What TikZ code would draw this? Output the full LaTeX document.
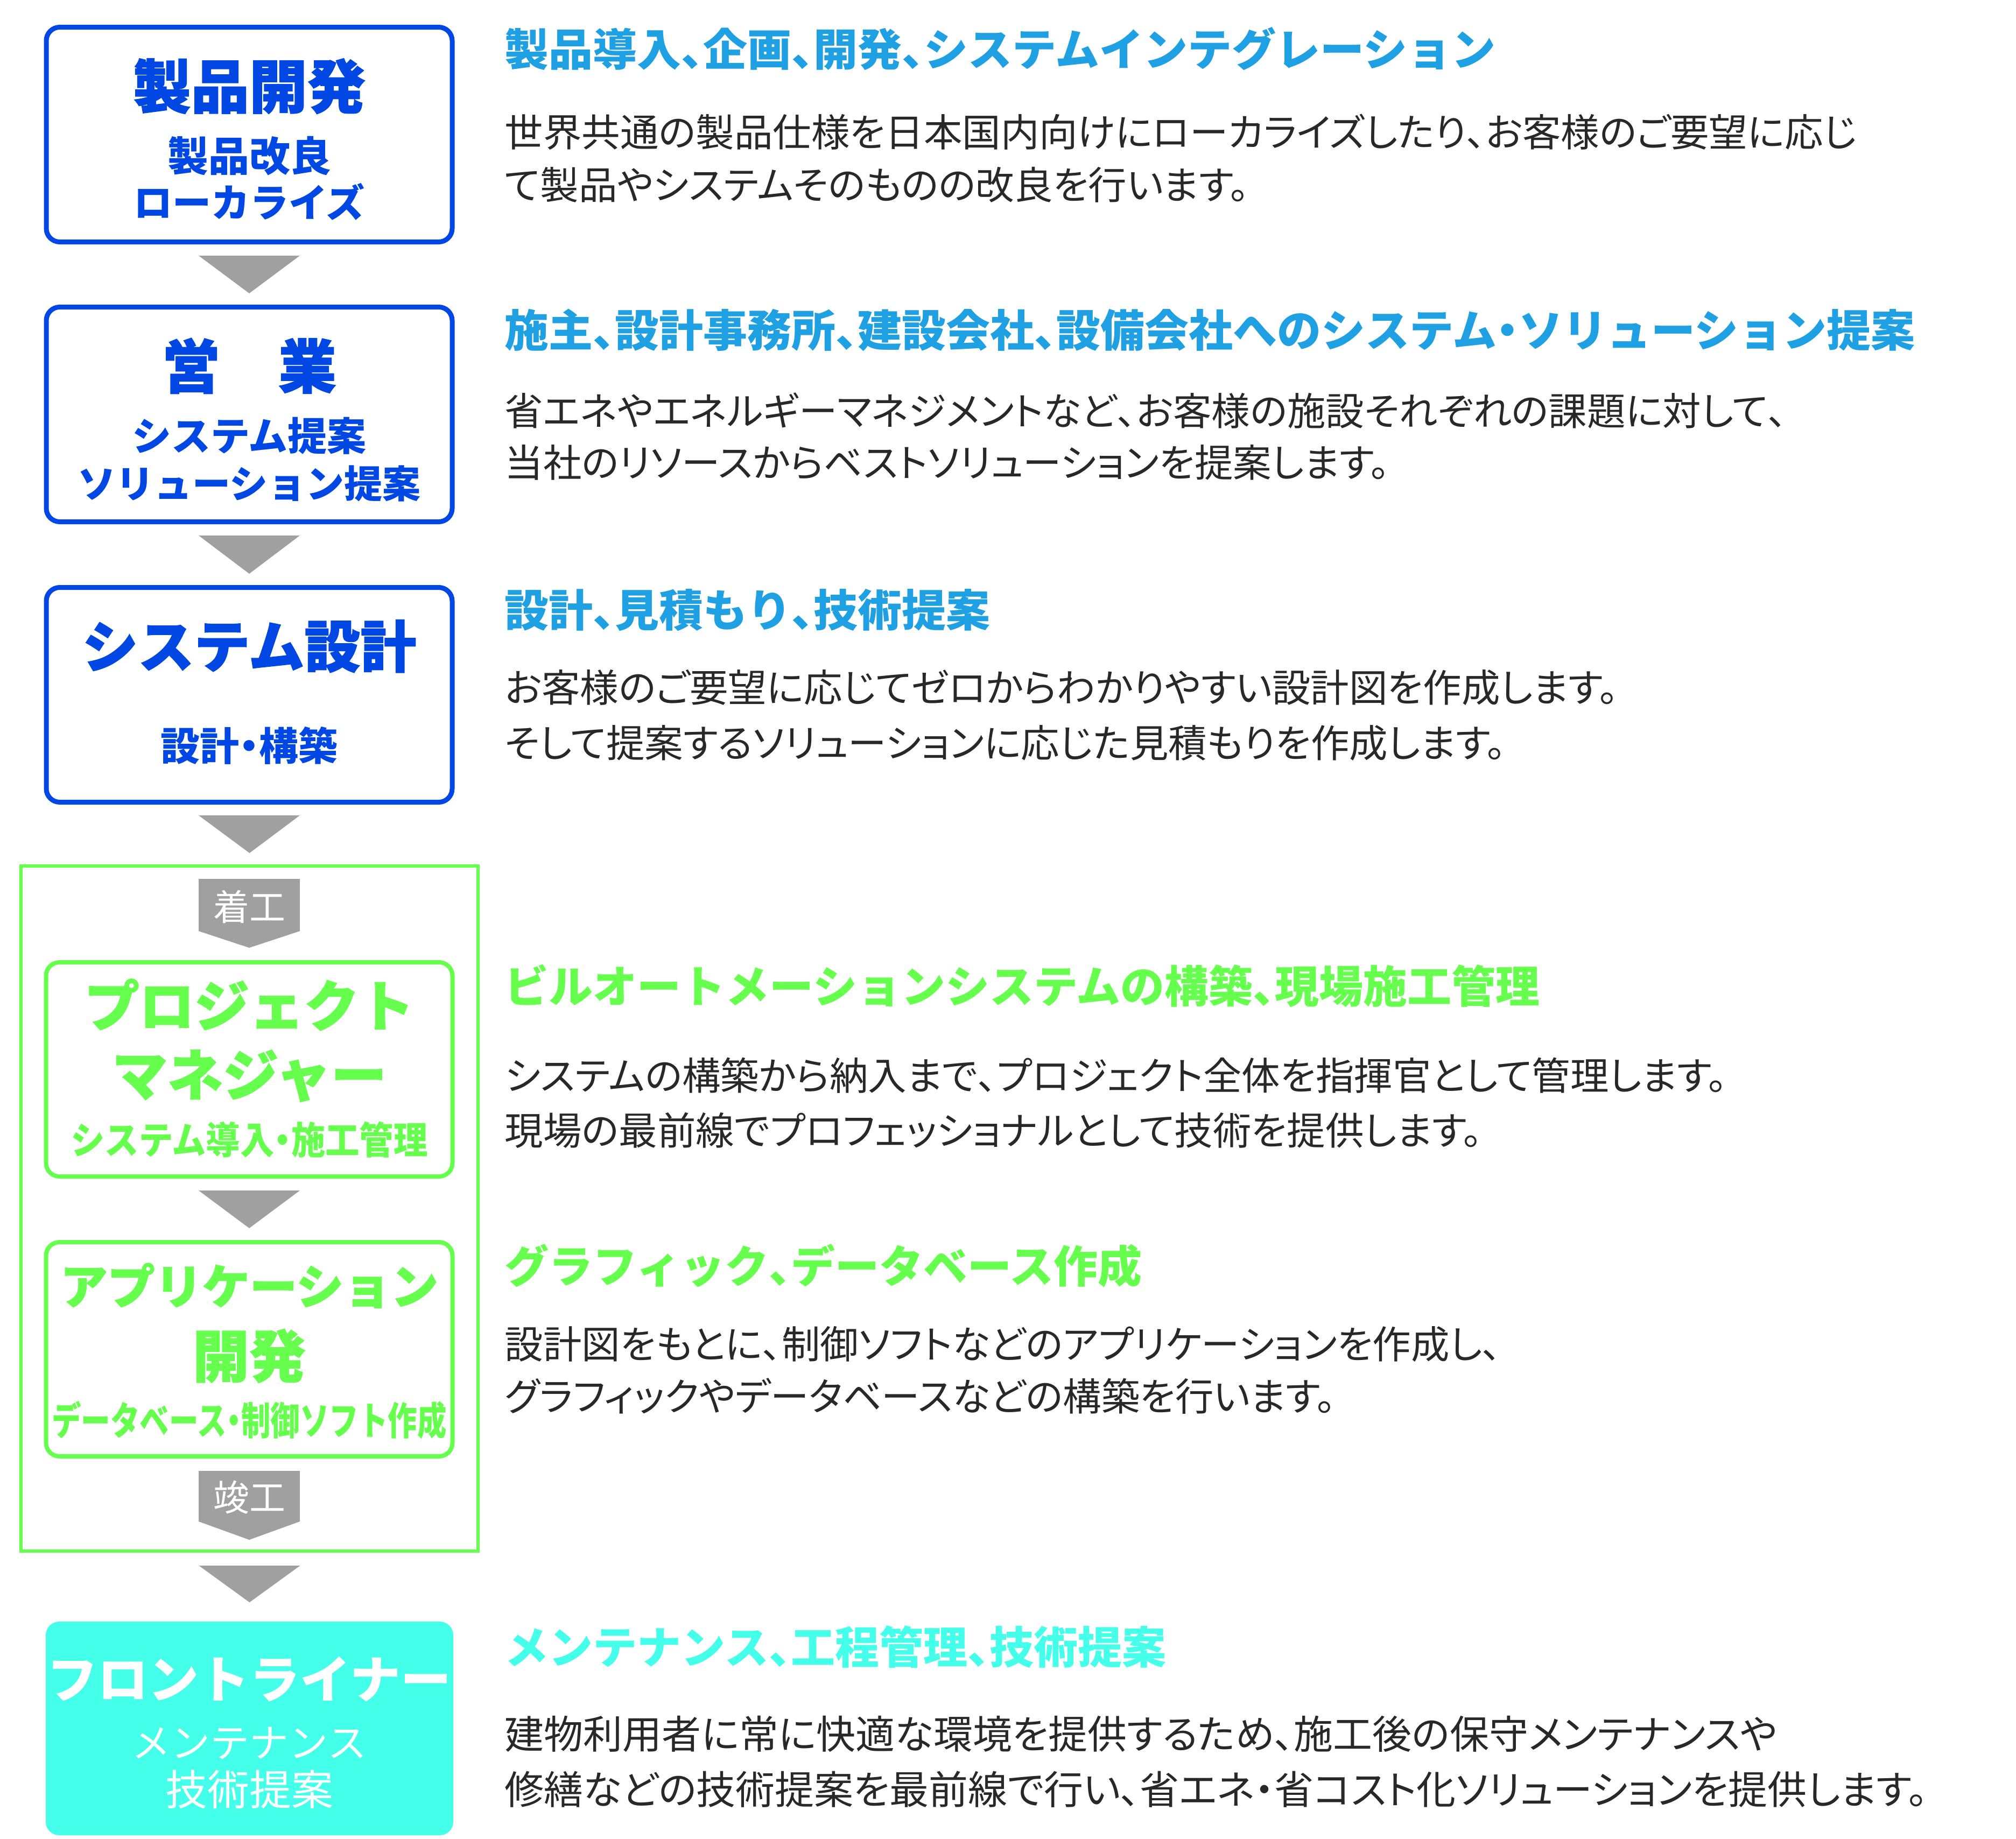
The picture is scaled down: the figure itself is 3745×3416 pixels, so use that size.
\documentclass[tikz,border=0pt]{standalone}
\usepackage{graphicx}
\usepackage{fontspec}
\setmainfont{Noto Sans CJK JP}
\newfontfamily\bodyfont{Noto Sans CJK JP}[RawFeature=+palt]
\newfontfamily\heavyfont{Noto Sans CJK JP}[BoldFeatures={FakeBold=1.4}]
\usetikzlibrary{calc}
\definecolor{boxblue}{RGB}{0,71,228}
\definecolor{headblue}{RGB}{30,160,226}
\definecolor{lgreen}{RGB}{102,255,77}
\definecolor{cyanc}{RGB}{68,255,234}
\definecolor{arrowgray}{RGB}{160,160,160}
\definecolor{bodytext}{RGB}{40,40,40}
\newcommand\setfs[1]{\fontsize{#1}{#1}\selectfont}
\newcommand\hten{\makebox[0.5em][l]{、}}
\newcommand\hdot{\makebox[0.5em][c]{・}}
\begin{document}
\begin{tikzpicture}[x=0.25pt,y=-0.25pt,
  bluebox/.style={draw=boxblue,line width=2.25pt,rounded corners=6.25pt,fill=white,minimum width=188.5pt,minimum height=99.75pt,inner sep=0pt},
  greenbox/.style={draw=lgreen,line width=2pt,rounded corners=6.25pt,fill=white,minimum width=188.75pt,minimum height=99.5pt,inner sep=0pt},
  cyanbox/.style={fill=cyanc,rounded corners=6.25pt,minimum width=189.25pt,minimum height=99.25pt,inner sep=0pt},
  framebox/.style={draw=lgreen,line width=1.5pt,minimum width=212.25pt,minimum height=318.25pt,inner sep=0pt},
  arrowfill/.style={fill=arrowgray},
  lbl/.style={inner sep=0pt,anchor=base},
  rhead/.style={inner sep=0pt,anchor=base west,font={\setfs{20.5pt}\bfseries}},
  rbody/.style={inner sep=0pt,anchor=base west,text=bodytext,font={\bodyfont\setfs{17.875pt}}},
  rbodyb/.style={inner sep=0pt,anchor=base west,text=bodytext,font={\bodyfont\setfs{18.25pt}}}
]
\useasboundingbox (0,0) rectangle (3745,3416);
\fill[white] (0,0) rectangle (3745,3416);

% outer green frame
\node[framebox] (frame) at (463.5,2245.5) {};

% boxes
\node[bluebox] (b1) at (463,250) {};
\node[bluebox] (b2) at (463,770) {};
\node[bluebox] (b3) at (463,1291) {};
\node[greenbox] (pm) at (463,1987) {};
\node[greenbox] (app) at (463,2507) {};
\node[cyanbox] (fl) at (463.5,3211.5) {};

% arrows
\fill[arrowfill] ($(b1.south)+(-94,21)$) -- ($(b1.south)+(94,21)$) -- ($(b2.north)+(0,-21)$) -- cycle;
\fill[arrowfill] ($(b2.south)+(-94,21)$) -- ($(b2.south)+(94,21)$) -- ($(b3.north)+(0,-21)$) -- cycle;
\fill[arrowfill] ($(b3.south)+(-94,20)$) -- ($(b3.south)+(94,20)$) -- ($(frame.north)+(0,-21)$) -- cycle;
\fill[arrowfill] ($(pm.south)+(-94,22)$) -- ($(pm.south)+(94,22)$) -- ($(app.north)+(0,-22)$) -- cycle;
\fill[arrowfill] ($(frame.south)+(-94,24)$) -- ($(frame.south)+(94,24)$) -- ($(fl.north)+(0,-35)$) -- cycle;

% start / completion tags
\fill[arrowfill] (369,1633) -- (557,1633) -- (557,1730) -- (463,1761) -- (369,1730) -- cycle;
\fill[arrowfill] (369,2733) -- (557,2733) -- (557,2827) -- (463,2861) -- (369,2827) -- cycle;
\node[lbl,text=white,font={\setfs{16.75pt}}] (start) at (463,1710) {着工};
\node[lbl,text=white,font={\setfs{16.75pt}}] (done) at (463,2807) {竣工};

% box texts
\node[lbl,text=boxblue,font={\heavyfont\setfs{27pt}\bfseries}] (b1t) at (463,201) {製品開発};
\node[lbl,text=boxblue,font={\setfs{19pt}\bfseries}] (b1s) at (463,318) {製品改良};
\node[lbl,text=boxblue,font={\setfs{18pt}\bfseries}] (b1u) at (463,403) {ローカライズ};

\node[lbl,text=boxblue,font={\heavyfont\setfs{27pt}\bfseries}] (b2t) at (463,721) {営　業};
\node[lbl,text=boxblue,font={\setfs{18.25pt}\bfseries}] (b2s) at (463,837) {システム提案};
\node[lbl,text=boxblue,font={\setfs{17.75pt}\bfseries}] (b2u) at (463,925) {ソリューション提案};

\node[lbl,text=boxblue,font={\heavyfont\setfs{26pt}\bfseries}] (b3t) at (463,1240) {システム設計};
\node[lbl,text=boxblue,font={\setfs{18.25pt}\bfseries}] (b3s) at (463,1413) {設計\hdot{}構築};

\node[lbl,text=lgreen,font={\heavyfont\setfs{25.5pt}\bfseries}] (pmt) at (463,1907) {プロジェクト};
\node[lbl,text=lgreen,font={\heavyfont\setfs{25.75pt}\bfseries}] (pmu) at (463,2036) {マネジャー};
\node[lbl,text=lgreen,font={\setfs{17.5pt}\bfseries}] (pms) at (463,2144) {\scalebox{0.905}[1]{システム導入\hdot{}施工管理}};

\node[lbl,text=lgreen,font={\heavyfont\setfs{22pt}\bfseries}] (appt) at (463,2423) {アプリケーション};
\node[lbl,text=lgreen,font={\heavyfont\setfs{26.25pt}\bfseries}] (appu) at (463,2559) {開発};
\node[lbl,text=lgreen,font={\setfs{18pt}\bfseries}] (apps) at (463,2666) {\scalebox{0.757}[1]{データベース\hdot{}制御ソフト作成}};

\node[lbl,text=white,font={\setfs{23.5pt}\bfseries}] (flt) at (463,3155) {フロントライナー};
\node[lbl,text=white,font={\setfs{18.25pt}}] (fls) at (463,3265) {メンテナンス};
\node[lbl,text=white,font={\setfs{19.5pt}}] (flu) at (463,3354) {技術提案};

% right column
\node[rhead,text=headblue] (h1) at (937,122) {製品導入\hten{}企画\hten{}開発\hten{}システムインテグレーション};
\node[rbody] (p1a) at (937,272) {世界共通の製品仕様を日本国内向けにローカライズしたり\hten{}お客様のご要望に応じ};
\node[rbody] (p1b) at (937,370) {て製品やシステムそのものの改良を行います。};

\node[rhead,text=headblue] (h2) at (937,644) {施主\hten{}設計事務所\hten{}建設会社\hten{}設備会社へのシステム\hdot{}ソリューション提案};
\node[rbody] (p2a) at (937,790) {省エネやエネルギーマネジメントなど\hten{}お客様の施設それぞれの課題に対して\hten};
\node[rbody] (p2b) at (937,886) {当社のリソースからベストソリューションを提案します。};

\node[rhead,text=headblue] (h3) at (937,1164) {設計\hten{}見積もり\hten{}技術提案};
\node[rbody] (p3a) at (937,1304) {お客様のご要望に応じてゼロからわかりやすい設計図を作成します。};
\node[rbody] (p3b) at (937,1407) {そして提案するソリューションに応じた見積もりを作成します。};

\node[rhead,text=lgreen] (h4) at (937,1863) {ビルオートメーションシステムの構築\hten{}現場施工管理};
\node[rbody] (p4a) at (937,2025) {システムの構築から納入まで\hten{}プロジェクト全体を指揮官として管理します。};
\node[rbody] (p4b) at (937,2127) {現場の最前線でプロフェッショナルとして技術を提供します。};

\node[rhead,text=lgreen] (h5) at (937,2383) {グラフィック\hten{}データベース作成};
\node[rbody] (p5a) at (937,2524) {設計図をもとに\hten{}制御ソフトなどのアプリケーションを作成し\hten};
\node[rbody] (p5b) at (937,2621) {グラフィックやデータベースなどの構築を行います。};

\node[rhead,text=cyanc] (h6) at (937,3091) {メンテナンス\hten{}工程管理\hten{}技術提案};
\node[rbodyb] (p6a) at (937,3249) {建物利用者に常に快適な環境を提供するため\hten{}施工後の保守メンテナンスや};
\node[rbodyb] (p6b) at (937,3352) {修繕などの技術提案を最前線で行い\hten{}省エネ\hdot{}省コスト化ソリューションを提供します。};
\end{tikzpicture}
\end{document}
